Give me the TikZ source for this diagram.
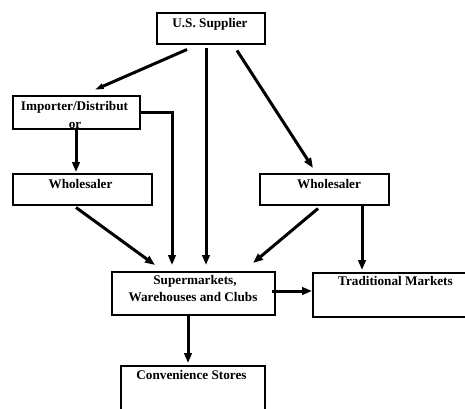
\documentclass[tikz,border=0pt]{standalone}
\usepackage{fontspec}
\setmainfont{Liberation Serif}
\usetikzlibrary{arrows.meta,calc}
\begin{document}
\begin{tikzpicture}[x=1pt,y=-1pt,
  box/.style={draw,line width=1.5pt,inner sep=0pt,anchor=north west},
  lbl/.style={anchor=base,inner sep=0pt,font=\fontsize{13.2pt}{17.4pt}\selectfont\bfseries,align=center},
  conn/.style={line width=3pt,-{Triangle[length=10pt,width=7.5pt]}},
  thin conn/.style={line width=3pt,-{Triangle[length=12pt,width=4.5pt]}}]
\clip (0,0) rectangle (465,408);
\useasboundingbox (0,0) rectangle (465,408);
% boxes
\node[box,minimum width=108pt,minimum height=31pt] (us) at (156,12) {};
\node[box,minimum width=127pt,minimum height=33pt] (imp) at (12,95) {};
\node[box,minimum width=139pt,minimum height=31pt] (wl) at (12,173) {};
\node[box,minimum width=129pt,minimum height=31pt] (wr) at (259,173) {};
\node[box,minimum width=163pt,minimum height=43pt] (sm) at (111,271) {};
\node[box,minimum width=158pt,minimum height=44pt] (tm) at (312,272) {};
\node[box,minimum width=144pt,minimum height=47pt] (cs) at (120,365) {};
% labels
\node[lbl] (tus) at (210,27) {U.S. Supplier};
\node[lbl] (timp) at (74.5,110) {Importer/Distribut};
\node[lbl] (timp2) at (75,128) {or};
\node[lbl] (twl) at (80.5,188) {Wholesaler};
\node[lbl] (twr) at (329,188) {Wholesaler};
\node[lbl] (tsm1) at (195,284.5) {Supermarkets,};
\node[lbl] (tsm2) at (193,301.5) {Warehouses and Clubs};
\node[lbl] (ttm) at (395.5,285) {Traditional Markets};
\node[lbl] (tcs) at (191.5,379) {Convenience Stores};
% connectors
\draw[thin conn] ($(us.south west)+(31,5)$) -- ($(imp.north west)+(80,-4)$);
\draw[conn] ($(us.south west)+(50,3)$) -- ($(sm.north west)+(95,-6)$);
\draw[conn] ($(us.south west)+(81,6)$) -- ($(wr.north west)+(54,-5)$);
\draw[conn] ($(imp.south west)+(64,0)$) -- ($(wl.north west)+(64,-1)$);
\draw[conn] ($(imp.north east)+(-1,17)$) -| ($(sm.north west)+(61,-6)$);
\draw[conn] ($(wl.south west)+(64,2)$) -- ($(sm.north west)+(44,-6)$);
\draw[conn] ($(wr.south west)+(59,3)$) -- ($(sm.north west)+(142,-8)$);
\draw[conn] ($(wr.south west)+(103,-2)$) -- ($(tm.north west)+(50,-2)$);
\draw[conn] ($(sm.north east)+(-4,20)$) -- ($(tm.north west)+(0,19)$);
\draw[conn] ($(sm.south west)+(77,0)$) -- ($(cs.north west)+(68,-2)$);
\end{tikzpicture}
\end{document}
